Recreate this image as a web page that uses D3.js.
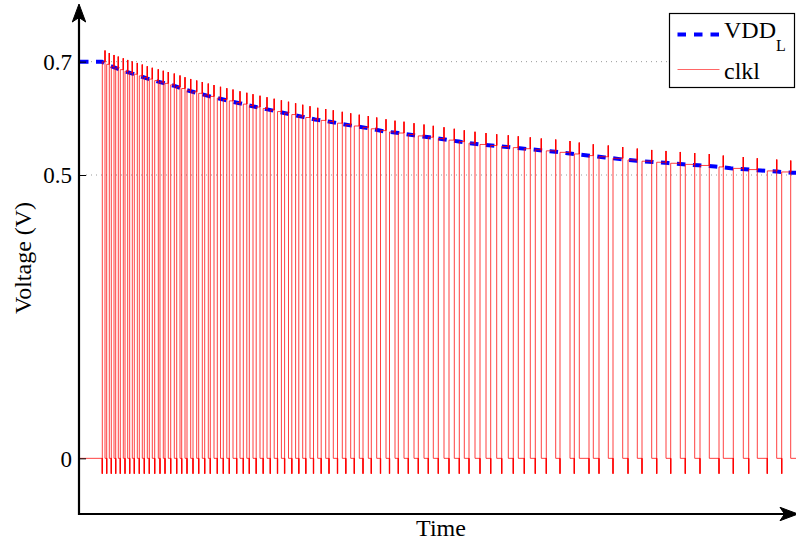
<!DOCTYPE html>
<html>
<head>
<meta charset="utf-8">
<script src="https://cdn.jsdelivr.net/npm/d3@7"></script>
<style>
body { margin: 0; background: #fff; }
</style>
</head>
<body>
<script>
//clock edges (time in arbitrary units, no labels on the axis)
var riseTimes = [
    22.3, 26.7, 31.3, 35.7, 40.3, 45, 49.7, 54.3, 59.3, 64.3, 69.3, 74.7, 80, 85, 90.7, 96.7, 101.7, 107, 113, 118.7, 124.7, 130.3,
    137.3, 143.3, 149.3, 156.7, 163.3,
    169.3, 176.2, 183.2, 190.3, 197.5, 204.6, 211.8, 218.8,
    225.8, 233.5, 241.2, 249, 257.5, 265.8, 274.3, 283, 291.3, 300.5, 309.5, 318.3,
    328.3, 338.3, 348.3, 358.3, 369, 379.3, 389, 400, 410.7, 421.7, 433.3,
    444.3, 455.3, 466.3,
    480, 494.3, 509, 519, 533, 548, 562, 576.7, 590.7, 605.3, 620, 639, 653.3, 668.7, 687.3, 701.7
];
var fallTimes = [
    25, 29.3, 34, 38.3, 43.3, 47.7, 52.3, 57.3, 62.3, 67.3, 72.3, 78.3, 83.3, 88.3, 94.3, 100, 105, 110.7, 116.7, 122.3, 128.3, 134,
    140.5, 146.8, 153, 160, 166.8,
    173, 180, 187, 194.2, 201.4, 208.5, 215.6, 222.7,
    230, 237.7, 245.7, 253.3, 262.3, 270.7, 279.3, 288.3, 296.7, 306, 315, 324,
    334, 344, 353.3, 364, 374.3, 384.3, 395, 406, 416.7, 428.3, 438.3,
    450.3, 461.3, 475.7,
    490, 499.3, 513.3, 528.3, 542.7, 557.3, 571.7, 586, 600.3, 614.7, 629.3, 643.3, 663.3, 677.3, 696.7, 710.7
];

//VDD_L samples
var vddTimes = [0, 22, 28, 41.7, 54, 67.7, 80, 93, 106, 119, 131.7, 156, 176, 200, 221.7, 235, 250, 261.7, 276, 290,
    304.3, 318.7, 334, 349.3, 363.3, 379, 390, 404.3, 417.7, 470, 525, 540, 556.7, 572.7, 588.3, 603.3, 618.7,
    635, 650.7, 665.3, 681, 696.7, 712.7, 716];
var vddValues = [0.700, 0.700, 0.694, 0.685, 0.678, 0.670, 0.664, 0.658, 0.650, 0.644, 0.638, 0.628, 0.620, 0.611, 0.603,
    0.598, 0.594, 0.590, 0.586, 0.582, 0.577, 0.574, 0.570, 0.5665, 0.563, 0.559, 0.556, 0.553, 0.551, 0.542, 0.531,
    0.528, 0.525, 0.523, 0.521, 0.519, 0.517, 0.515, 0.512, 0.510, 0.508, 0.506, 0.504, 0.504];

var yTicks = [0, 0.5, 0.7];
var gridValues = [0.5, 0.7];
var overshoot = 0.02, undershoot = 0.027;
var tEnd = 716;

var serif = "'Liberation Serif', 'Times New Roman', Times, 'DejaVu Serif', serif";

var width = 796,
    height = 545;

var svg = d3.select("body")
    .append("svg")
    .attr("width", width)
    .attr("height", height)
    .style("font-family", serif);

var x = d3.scaleLinear().domain([0, tEnd]).range([80, 796]);
var y = d3.scaleLinear().domain([-0.1, 0.8]).range([515, 5]);

//high level of each pulse follows VDD at its rising edge
var vddAt = d3.scaleLinear().domain(vddTimes).range(vddValues);

var clk = [[0, 0]],
    spikes = [];
riseTimes.forEach(function(r, i){
    var f = fallTimes[i],
        hi = vddAt(r);
    clk.push([r, 0], [r, -undershoot], [r, hi], [f, hi], [f, hi + overshoot], [f, 0]);
    spikes.push([[r, 0], [r, -undershoot]]);
    spikes.push([[f, hi], [f, hi + overshoot]]);
});
clk.push([tEnd, 0]);

var line = d3.line()
    .x(function(d){ return x(d[0]); })
    .y(function(d){ return y(d[1]); });

//dotted grid lines
svg.selectAll(".grid")
    .data(gridValues)
    .enter()
    .append("line")
    .attr("class", "grid")
    .attr("x1", 86).attr("x2", 796)
    .attr("y1", function(d){ return y(d); })
    .attr("y2", function(d){ return y(d); })
    .attr("stroke", "#9a9a9a")
    .attr("stroke-width", 1)
    .attr("stroke-dasharray", "1,4");

//VDD_L
svg.append("path")
    .datum(d3.zip(vddTimes, vddValues))
    .attr("d", line)
    .attr("fill", "none")
    .attr("stroke", "#0000ff")
    .attr("stroke-width", 4)
    .attr("stroke-dasharray", "8.5,7.5");

//clkl
svg.append("path")
    .datum(clk)
    .attr("d", line)
    .attr("fill", "none")
    .attr("stroke", "#ff0000")
    .attr("stroke-opacity", 0.75)
    .attr("stroke-width", 1);

svg.selectAll(".spike")
    .data(spikes)
    .enter()
    .append("path")
    .attr("class", "spike")
    .attr("d", line)
    .attr("stroke", "#ff0000")
    .attr("stroke-width", 1.4);

//y ticks and labels
var yAxis = d3.axisLeft(y)
    .tickValues(yTicks)
    .tickFormat(function(d){ return String(d); })
    .tickSize(-6)
    .tickSizeOuter(0)
    .tickPadding(8);

var gy = svg.append("g")
    .attr("transform", "translate(80,0)")
    .call(yAxis);
gy.attr("font-family", null);
gy.select(".domain").remove();
gy.selectAll(".tick line").attr("stroke", "#000");
gy.selectAll(".tick text")
    .style("font-family", serif)
    .style("font-size", "23px")
    .attr("fill", "#000")
    .attr("dy", "0.34em");

//axis lines with arrow heads
svg.append("line")
    .attr("x1", 79).attr("y1", 515).attr("x2", 79).attr("y2", 16)
    .attr("stroke", "#000").attr("stroke-width", 2.2);
svg.append("path")
    .attr("d", "M79,4 L85.7,22 L79,17.5 L72.3,22 Z")
    .attr("fill", "#000").attr("stroke", "#000").attr("stroke-width", 1);
svg.append("line")
    .attr("x1", 78).attr("y1", 514).attr("x2", 788).attr("y2", 514)
    .attr("stroke", "#000").attr("stroke-width", 2.2);
svg.append("path")
    .attr("d", "M798,514 L780,507.3 L784.5,514 L780,520.7 Z")
    .attr("fill", "#000").attr("stroke", "#000").attr("stroke-width", 1);

//axis titles
svg.append("text")
    .attr("x", 441).attr("y", 536)
    .attr("text-anchor", "middle")
    .style("font-family", serif)
    .style("font-size", "24px")
    .text("Time");

svg.append("text")
    .attr("transform", "translate(31,258) rotate(-90)")
    .attr("text-anchor", "middle")
    .style("font-family", serif)
    .style("font-size", "24px")
    .text("Voltage (V)");

//legend
var legend = svg.append("g");
legend.append("rect")
    .attr("x", 669.5).attr("y", 13.5)
    .attr("width", 125).attr("height", 74)
    .attr("fill", "#fff")
    .attr("stroke", "#000")
    .attr("stroke-width", 1.2);
legend.append("line")
    .attr("x1", 677.5).attr("x2", 719.5).attr("y1", 34.5).attr("y2", 34.5)
    .attr("stroke", "#0000ff").attr("stroke-width", 4)
    .attr("stroke-dasharray", "8.5,8");
legend.append("line")
    .attr("x1", 677.5).attr("x2", 719.5).attr("y1", 69.5).attr("y2", 69.5)
    .attr("stroke", "#ff0000").attr("stroke-opacity", 0.6).attr("stroke-width", 1);
var vddText = legend.append("text")
    .attr("x", 724).attr("y", 37.5)
    .style("font-family", serif)
    .style("font-size", "24px");
vddText.append("tspan").text("VDD");
vddText.append("tspan")
    .style("font-size", "16px")
    .attr("dy", 13)
    .text("L");
legend.append("text")
    .attr("x", 724).attr("y", 78.5)
    .style("font-family", serif)
    .style("font-size", "24px")
    .text("clkl");
</script>
</body>
</html>
